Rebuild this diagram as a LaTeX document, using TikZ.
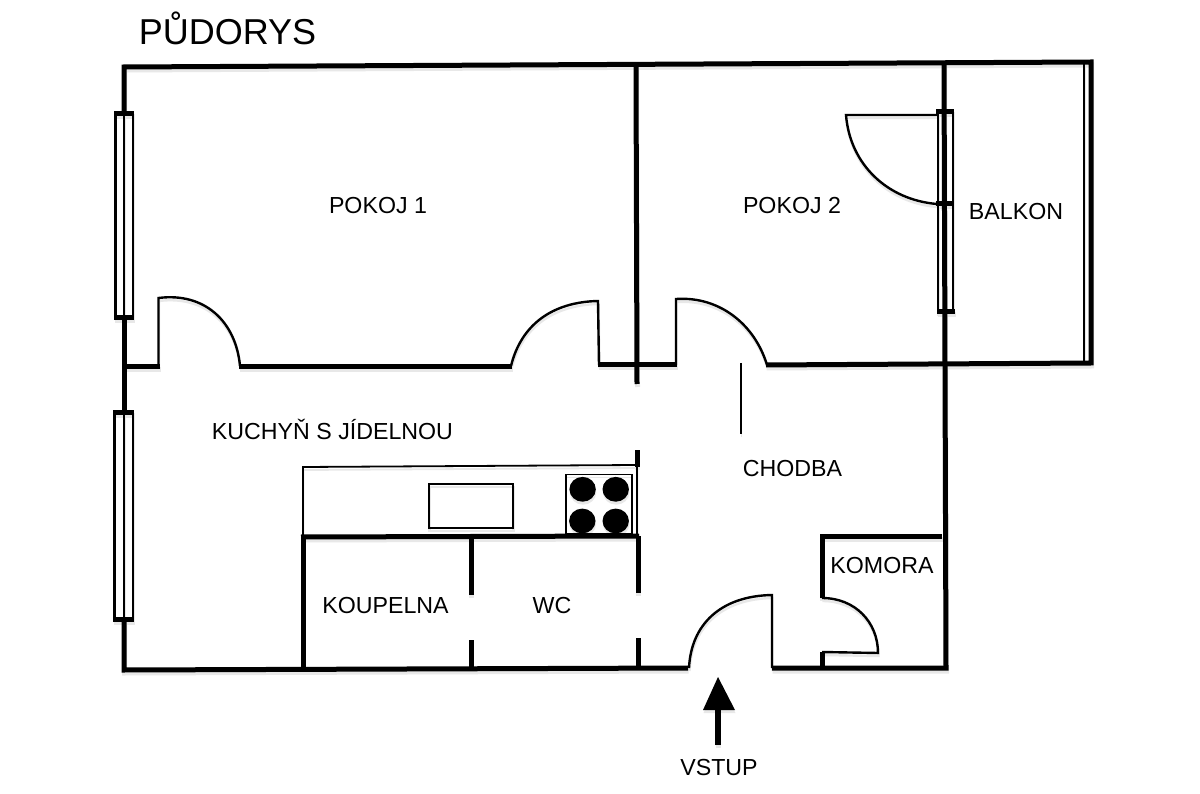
\documentclass[tikz,border=0pt]{standalone}
\usepackage{fontspec}
\setmainfont{Liberation Sans}
\colorlet{ink}{black}
\tikzset{
  wall/.style={line width=5pt,line cap=butt,line join=miter,ink},
  thin wall/.style={line width=2.4pt,line join=miter,ink},
  hair/.style={line width=1.8pt,line join=miter,ink},
  room/.style={anchor=base,inner sep=0pt,font=\fontsize{23.2}{26}\selectfont},
  title/.style={anchor=base,inner sep=0pt,font=\fontsize{36}{40}\selectfont},
  winpane/.style={line width=2.2pt,line join=miter,ink},
  caps/.style={line width=5pt,ink}
}
\newcommand{\planlines}{%
% kitchen unit
\draw[hair] (303,538) -- (303,467) -- (637,465) -- (637,537);
\draw[ink,line width=2.2pt] (429,484) rectangle (513,528);
\draw[ink,line width=1.8pt] (566,474.5) rectangle (632,534);
\fill[ink] (582.6,489.3) ellipse (13.2 and 12.4);
\fill[ink] (615.7,489.3) ellipse (13.2 and 12.4);
\fill[ink] (582.3,521) ellipse (13.2 and 12.4);
\fill[ink] (615.7,521) ellipse (13.2 and 12.4);
% outer walls
\draw[wall] (124,114) -- (124,67) -- (1091,62) -- (1091,363) -- (766,365);
\draw[thin wall] (1084,62) -- (1084,361);
\draw[wall] (124,318) -- (124,412);
\draw[wall] (124,619) -- (124,670) -- (688,668);
\draw[wall] (772,668) -- (946,668) -- (944,62);
% partition walls
\draw[wall] (636,67) -- (637,384);
\draw[wall] (637,450) -- (637,467);
\draw[wall] (301,537) -- (639,536);
\draw[wall] (303,536) -- (303,670);
\draw[wall] (471,536) -- (471,595);
\draw[wall] (471,640) -- (471,668);
\draw[wall] (638,536) -- (638,593);
\draw[wall] (638,638) -- (638,668);
\draw[wall] (124,367) -- (160,367);
\draw[wall] (239,367) -- (512,367);
\draw[wall] (598,365) -- (677,365);
\draw[wall] (942,536) -- (822,536) -- (822,598);
\draw[wall] (822,652) -- (822,668);
% doors
\draw[thin wall] (158.5,367) -- (158.5,298) .. controls (205,292) and (236,322) .. (240,366);
\draw[thin wall] (511,366) .. controls (521,325) and (552,302) .. (598,301) -- (599,365);
\draw[thin wall] (676,365) -- (676,299) .. controls (720,296) and (755,325) .. (767,365);
\draw[thin wall] (689,668) .. controls (691,625) and (720,596) .. (772,595) -- (772,668);
\draw[thin wall] (822,598) .. controls (855,598) and (878,622) .. (878,653) -- (822,652);
\draw[thin wall] (938,115) -- (846,115) .. controls (850,165) and (888,200) .. (937,204);
\draw[wall] (936,204) -- (953,204);
\draw[hair] (741,363) -- (741,434);
% windows
\draw[winpane] (115.5,114) rectangle (133,318);
\draw[winpane] (114.5,412) rectangle (133,619);
\draw[winpane] (938,112) rectangle (953,312);
\draw[caps] (114,114) -- (134,114);
\draw[caps] (114,318) -- (134,318);
\draw[caps] (113,412) -- (134,412);
\draw[caps] (113,619) -- (134,619);
\draw[caps] (936,112) -- (954,112);
\draw[caps] (937,312) -- (955,312);
\draw[thin wall] (124,114) -- (124,318);
\draw[thin wall] (124,412) -- (124,619);
\draw[thin wall] (945,112) -- (945,312);
% entrance arrow
\draw[ink,line width=5.5pt] (718,745) -- (718,708);
\fill[ink] (703,710) -- (718,677) -- (735,710) -- cycle;
}
\begin{document}
\begin{tikzpicture}[x=1pt,y=-1pt]
\useasboundingbox[fill=white] (0,0) rectangle (1200,794);
% faint drop shadow of the drawing
\begin{scope}[yshift=-3pt,xshift=0.5pt]
\colorlet{ink}{black!9}
\planlines
\end{scope}
\colorlet{ink}{black}
\planlines
% labels
\node[title] (nadpis) at (227.5,45) {PŮDORYS};
\node[room] (pokoj1) at (378,214) {POKOJ 1};
\node[room] (pokoj2) at (792,214) {POKOJ 2};
\node[room] (balkon) at (1016,220) {BALKON};
\node[room] (kuchyn) at (332.5,439) {KUCHYŇ S JÍDELNOU};
\node[room] (chodba) at (792.5,476) {CHODBA};
\node[room] (komora) at (882,573) {KOMORA};
\node[room] (koupelna) at (385.5,613) {KOUPELNA};
\node[room] (wc) at (552,613) {WC};
\node[room] (vstup) at (719,775) {VSTUP};
\end{tikzpicture}
\end{document}
